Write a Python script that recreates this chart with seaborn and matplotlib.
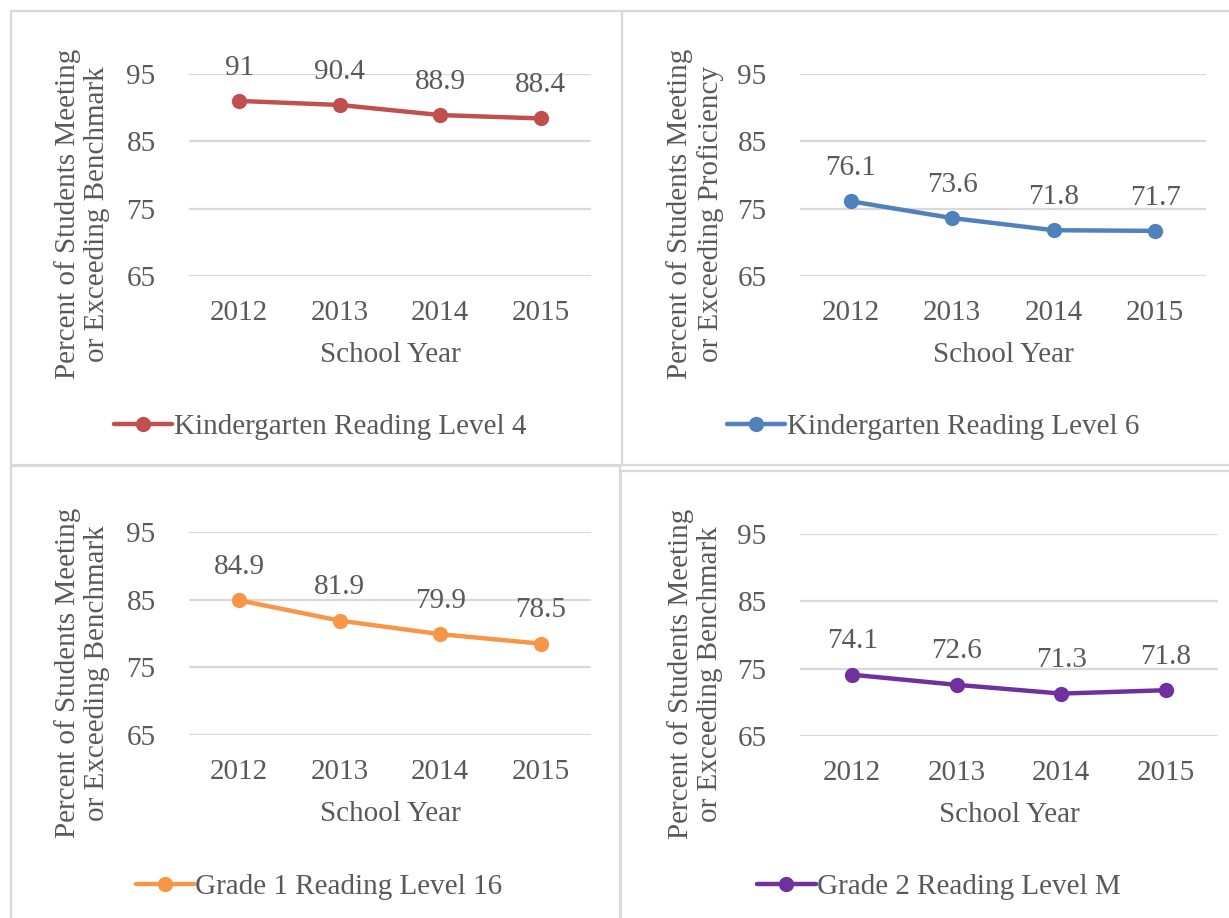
import matplotlib
matplotlib.use("Agg")
import matplotlib.pyplot as plt
import seaborn as sns
import pandas as pd
from matplotlib.patches import Rectangle

# data
years = [2012, 2013, 2014, 2015]
k4_values = [91, 90.4, 88.9, 88.4]
k6_values = [76.1, 73.6, 71.8, 71.7]
g1_values = [84.9, 81.9, 79.9, 78.5]
g2_values = [74.1, 72.6, 71.3, 71.8]

series_names = [
    "Kindergarten Reading Level 4",
    "Kindergarten Reading Level 6",
    "Grade 1 Reading Level 16",
    "Grade 2 Reading Level M",
]
ylabels = [
    "Percent of Students Meeting\nor Exceeding Benchmark",
    "Percent of Students Meeting\nor Exceeding Proficiency",
    "Percent of Students Meeting\nor Exceeding Benchmark",
    "Percent of Students Meeting\nor Exceeding Benchmark",
]
yticks = [65, 75, 85, 95]
colors = ["#C0504D", "#4F81BD", "#F79646", "#7030A0"]

sns.set_theme(style="white")
plt.rcParams["font.family"] = ["Liberation Serif", "DejaVu Serif"]
text_color = "#595959"
grid_color = "#D9D9D9"
FS = 21

W, H = 1229, 918
fig = plt.figure(figsize=(W / 100, H / 100), dpi=100)


def px_axes(x0, y0, x1, y1):
    return fig.add_axes([x0 / W, 1 - y1 / H, (x1 - x0) / W, (y1 - y0) / H])


# panel borders (pixel boxes)
boxes = [(11, 11, 622, 465), (622, 11, 1232, 465), (11, 466, 620, 922), (621, 471, 1232, 922)]
for x0, y0, x1, y1 in boxes:
    fig.patches.append(Rectangle((x0 / W, 1 - y1 / H), (x1 - x0) / W, (y1 - y0) / H,
                                 transform=fig.transFigure, fill=False,
                                 edgecolor=grid_color, lw=1.6))

# axes areas, ylabel centre, legend centre (pixels)
layout = [
    ((189, 74, 591, 276), (82, 214), (320, 427)),
    ((800, 74, 1206, 276), (695, 214), (933, 427)),
    ((189, 532, 591, 735), (82, 673), (319, 887)),
    ((800, 534, 1218, 736), (695, 674), (939, 887)),
]
all_values = [k4_values, k6_values, g1_values, g2_values]

for i, ((x0, y0, x1, y1), (lx, ly), (gx, gy)) in enumerate(layout):
    ax = px_axes(x0, y0, x1, y1)
    df = pd.DataFrame({"year": years, "value": all_values[i]})
    sns.lineplot(data=df, x="year", y="value", ax=ax, color=colors[i],
                 marker="o", markersize=11, markeredgewidth=0, linewidth=3.2,
                 label=series_names[i], clip_on=False, zorder=3)
    ax.set_xlim(2011.5, 2015.5)
    ax.set_ylim(65, 95)
    ax.set_xticks(years)
    ax.set_xticklabels([str(y) for y in years])
    ax.set_yticks(yticks)
    ax.grid(axis="y", color=grid_color, lw=1.6)
    ax.grid(axis="x", visible=False)
    for s in ax.spines.values():
        s.set_visible(False)
    ax.tick_params(axis="y", length=0, pad=24, labelsize=FS, labelcolor=text_color)
    ax.tick_params(axis="x", length=0, pad=17, labelsize=FS, labelcolor=text_color)

    # data labels
    for yr, v in zip(years, all_values[i]):
        ax.annotate(f"{v:g}", (yr, v), xytext=(0, 24), textcoords="offset points",
                    ha="center", va="center", fontsize=FS, color=text_color,
                    annotation_clip=False)

    ax.set_xlabel("School Year", fontsize=FS, color=text_color)
    ax.xaxis.label.set_va("center")
    ax.xaxis.set_label_coords(0.5, -(355 - 276) / 202)
    ax.set_ylabel(ylabels[i], fontsize=FS, color=text_color, linespacing=1.15)
    ax.yaxis.label.set_va("center")
    ax.yaxis.label.set_ha("center")
    ax.yaxis.set_label_coords((lx - x0) / (x1 - x0), (y1 - ly) / (y1 - y0))

    ax.legend(loc="center", bbox_to_anchor=(gx / W, 1 - gy / H),
              bbox_transform=fig.transFigure, frameon=False, fontsize=FS,
              labelcolor=text_color, handlelength=2.0, handletextpad=0.05,
              borderpad=0)

fig.savefig("out.png", dpi=100, facecolor="white")
